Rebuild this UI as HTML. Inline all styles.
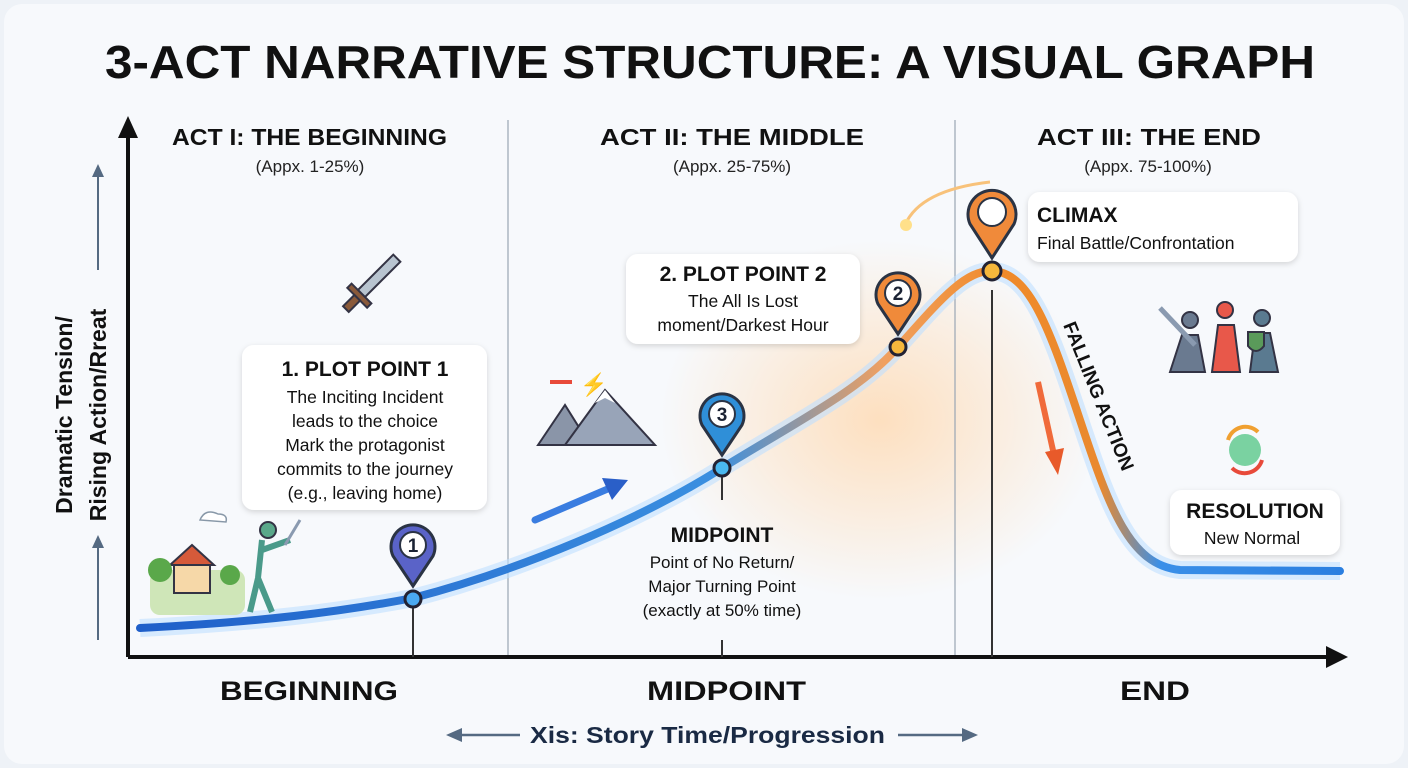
<!DOCTYPE html>
<html><head><meta charset="utf-8"><style>
html,body{margin:0;padding:0;width:1408px;height:768px;overflow:hidden;background:#eef2f7;font-family:"Liberation Sans",sans-serif}
svg{display:block}
</style></head><body>
<svg width="1408" height="768" viewBox="0 0 1408 768" xmlns="http://www.w3.org/2000/svg">
<defs>
<linearGradient id="cg" x1="140" y1="0" x2="1340" y2="0" gradientUnits="userSpaceOnUse">
<stop offset="0" stop-color="#1f5fc9"/><stop offset="0.48" stop-color="#3a8fe0"/><stop offset="0.62" stop-color="#f0a060"/><stop offset="0.72" stop-color="#f08a2a"/><stop offset="0.8" stop-color="#e9892f"/><stop offset="0.85" stop-color="#3a8fe8"/><stop offset="1" stop-color="#2b7fe0"/></linearGradient>
<radialGradient id="glow" cx="0.5" cy="0.5" r="0.5"><stop offset="0" stop-color="#ffd9b0" stop-opacity="0.8"/><stop offset="1" stop-color="#ffd9b0" stop-opacity="0"/></radialGradient>
<filter id="sh" x="-10%" y="-10%" width="120%" height="130%"><feDropShadow dx="0" dy="2" stdDeviation="3" flood-opacity="0.15"/></filter>
</defs>
<rect x="4" y="4" width="1400" height="760" rx="18" fill="#f7f9fc"/>
<ellipse cx="880" cy="420" rx="220" ry="180" fill="url(#glow)"/>
<text x="105" y="78" textLength="1210" lengthAdjust="spacingAndGlyphs" font-size="46" font-weight="bold" fill="#111">3-ACT NARRATIVE STRUCTURE: A VISUAL GRAPH</text>
<line x1="508" y1="120" x2="508" y2="655" stroke="#9aa6b4" stroke-width="1.2"/>
<line x1="955" y1="120" x2="955" y2="655" stroke="#9aa6b4" stroke-width="1.2"/>
<line x1="128" y1="657" x2="128" y2="130" stroke="#111" stroke-width="4"/>
<polygon points="128,116 118,138 138,138" fill="#111"/>
<line x1="128" y1="657" x2="1330" y2="657" stroke="#111" stroke-width="4"/>
<polygon points="1348,657 1326,646 1326,668" fill="#111"/>
<line x1="98" y1="640" x2="98" y2="545" stroke="#556a82" stroke-width="2"/><polygon points="98,535 92,548 104,548" fill="#556a82"/>
<line x1="98" y1="270" x2="98" y2="175" stroke="#556a82" stroke-width="2"/><polygon points="98,164 92,177 104,177" fill="#556a82"/>
<text transform="translate(72,415) rotate(-90)" text-anchor="middle" font-size="23" font-weight="bold" fill="#111">Dramatic Tension/</text>
<text transform="translate(106,415) rotate(-90)" text-anchor="middle" font-size="23" font-weight="bold" fill="#111">Rising Action/Rreat</text>
<g font-weight="bold" font-size="23" fill="#111" lengthAdjust="spacingAndGlyphs">
<text x="172" y="145" textLength="275" lengthAdjust="spacingAndGlyphs">ACT I: THE BEGINNING</text>
<text x="600" y="145" textLength="264" lengthAdjust="spacingAndGlyphs">ACT II: THE MIDDLE</text>
<text x="1037" y="145" textLength="224" lengthAdjust="spacingAndGlyphs">ACT III: THE END</text></g>
<g font-size="17" fill="#222" text-anchor="middle">
<text x="310" y="172">(Appx. 1-25%)</text>
<text x="732" y="172">(Appx. 25-75%)</text>
<text x="1148" y="172">(Appx. 75-100%)</text></g>
<path d="M140,628 C260,622 340,612 413,598 C520,570 640,520 722,468 C800,420 860,390 898,347 C940,300 965,270 992,271 C1030,272 1050,330 1080,420 C1110,510 1130,565 1180,570 L1340,571" fill="none" stroke="#bfe0ff" stroke-width="18" opacity="0.6"/>
<path d="M140,628 C260,622 340,612 413,598 C520,570 640,520 722,468 C800,420 860,390 898,347 C940,300 965,270 992,271 C1030,272 1050,330 1080,420 C1110,510 1130,565 1180,570 L1340,571" fill="none" stroke="url(#cg)" stroke-width="8" stroke-linecap="round"/>
<g stroke="#333" stroke-width="2"><line x1="413" y1="605" x2="413" y2="657"/><line x1="722" y1="476" x2="722" y2="500"/><line x1="722" y1="640" x2="722" y2="657"/><line x1="992" y1="290" x2="992" y2="657"/></g>
<g stroke="#223" stroke-width="3"><circle cx="413" cy="599" r="8" fill="#4aa8f0"/><circle cx="722" cy="468" r="8" fill="#4ab8f0"/><circle cx="898" cy="347" r="8" fill="#f6b73c"/><circle cx="992" cy="271" r="9" fill="#f6b73c"/></g>
<g stroke="#2a3344" stroke-width="3">
<path d="M413,586 L393,556 A22,22 0 1 1 433,556 Z" fill="#5a63c8"/>
<path d="M722,455 L702,425 A22,22 0 1 1 742,425 Z" fill="#2f8fd8"/>
<path d="M898,334 L878,304 A22,22 0 1 1 918,304 Z" fill="#f08a3a"/>
<path d="M992,258 L970,224 A24,24 0 1 1 1014,224 Z" fill="#f08a3a"/></g>
<g fill="#fff" stroke="#2a3344" stroke-width="2"><circle cx="413" cy="545" r="13"/><circle cx="722" cy="414" r="13"/><circle cx="898" cy="293" r="13"/><circle cx="992" cy="212" r="14"/></g>
<g font-weight="bold" font-size="19" fill="#1a2233" text-anchor="middle"><text x="413" y="552">1</text><text x="722" y="421">3</text><text x="898" y="300">2</text></g>
<g fill="#fff" filter="url(#sh)">
<rect x="242" y="345" width="245" height="165" rx="12"/>
<rect x="626" y="254" width="234" height="90" rx="12"/>
<rect x="1028" y="192" width="270" height="70" rx="12"/>
<rect x="1170" y="490" width="170" height="65" rx="12"/>
</g>
<g fill="#111" text-anchor="middle">
<text x="365" y="376" font-size="21" font-weight="bold">1. PLOT POINT 1</text>
<g font-size="17.5"><text x="365" y="403">The Inciting Incident</text><text x="365" y="427">leads to the choice</text><text x="365" y="451">Mark the protagonist</text><text x="365" y="475">commits to the journey</text><text x="365" y="499">(e.g., leaving home)</text></g>
<text x="743" y="281" font-size="21" font-weight="bold">2. PLOT POINT 2</text>
<g font-size="17.5"><text x="743" y="307">The All Is Lost</text><text x="743" y="331">moment/Darkest Hour</text></g>
<text x="722" y="542" font-size="21" font-weight="bold">MIDPOINT</text>
<g font-size="17"><text x="722" y="568">Point of No Return/</text><text x="722" y="592">Major Turning Point</text><text x="722" y="616">(exactly at 50% time)</text></g>
<text x="1255" y="518" font-size="21" font-weight="bold">RESOLUTION</text>
<text x="1252" y="544" font-size="17.5">New Normal</text>
</g>
<text x="1037" y="222" font-size="21" font-weight="bold" fill="#111">CLIMAX</text>
<text x="1037" y="249" font-size="17.5" fill="#111">Final Battle/Confrontation</text>
<text transform="translate(1063,325) rotate(68)" font-size="19" font-weight="bold" fill="#111">FALLING ACTION</text>
<path d="M535,520 L610,488" stroke="#3a7de0" stroke-width="7" stroke-linecap="round"/><polygon points="628,480 602,478 612,500" fill="#2a5fc8"/>
<path d="M1038,382 L1054,455" stroke="#f06a3a" stroke-width="6"/><polygon points="1058,475 1045,452 1064,448" fill="#e85a2a"/>
<path d="M905,225 Q920,190 990,182" fill="none" stroke="#f8c27a" stroke-width="3"/><circle cx="906" cy="225" r="6" fill="#ffe08a"/>
<g transform="translate(365,290) rotate(45)"><rect x="-5" y="-45" width="10" height="50" fill="#b8c4d0" stroke="#334" stroke-width="2"/><rect x="-14" y="5" width="28" height="6" fill="#8a5a3a" stroke="#334" stroke-width="2"/><rect x="-4" y="11" width="8" height="16" fill="#8a5a3a" stroke="#334" stroke-width="2"/></g>
<polygon points="538,445 565,405 590,445" fill="#8a95a8" stroke="#334" stroke-width="2"/><polygon points="565,445 605,390 655,445" fill="#98a4b8" stroke="#334" stroke-width="2"/><polygon points="595,403 605,390 615,403 605,398" fill="#fff"/>
<path d="M550,382 L572,382" stroke="#e84a3a" stroke-width="4"/><text x="580" y="392" font-size="22" fill="#f0a020">⚡</text>
<rect x="150" y="570" width="95" height="45" rx="10" fill="#cfe6b8"/>
<polygon points="170,565 192,545 214,565" fill="#d65a3a" stroke="#334" stroke-width="2"/><rect x="174" y="565" width="36" height="28" fill="#f6d8a8" stroke="#334" stroke-width="2"/>
<circle cx="160" cy="570" r="12" fill="#5aa84a"/><circle cx="230" cy="575" r="10" fill="#5aa84a"/>
<circle cx="268" cy="530" r="8" fill="#5aa88a" stroke="#334" stroke-width="2"/><path d="M262,540 L258,578 L250,612 M258,578 L272,612 M262,550 L290,540" stroke="#4a9a8a" stroke-width="6" fill="none"/>
<path d="M285,545 L300,520" stroke="#8a9ab0" stroke-width="3"/>
<path d="M200,520 q5,-12 18,-6 q10,0 8,8 z" fill="#fff" stroke="#8898a8" stroke-width="1.5"/>
<g stroke="#334" stroke-width="2"><circle cx="1190" cy="320" r="8" fill="#6a7a90"/><path d="M1170,372 L1182,335 L1198,335 L1205,372 Z" fill="#6a7a90"/>
<circle cx="1225" cy="310" r="8" fill="#e8584a"/><path d="M1212,372 L1218,325 L1234,325 L1240,372 Z" fill="#e8584a"/>
<circle cx="1262" cy="318" r="8" fill="#5a7a90"/><path d="M1250,372 L1255,333 L1270,333 L1278,372 Z" fill="#5a7a90"/><path d="M1248,332 h16 v14 q-8,10 -16,0 z" fill="#5a9a5a"/></g>
<path d="M1160,308 L1195,345" stroke="#8a9ab0" stroke-width="5"/>
<circle cx="1245" cy="450" r="16" fill="#5ac88a" opacity="0.8"/><path d="M1228,440 a18,18 0 0 1 30,-8" fill="none" stroke="#f0a030" stroke-width="4"/><path d="M1262,460 a18,18 0 0 1 -30,8" fill="none" stroke="#e84a3a" stroke-width="4"/>
<g font-weight="bold" font-size="27" fill="#111">
<text x="220" y="700" textLength="178" lengthAdjust="spacingAndGlyphs">BEGINNING</text>
<text x="647" y="700" textLength="159" lengthAdjust="spacingAndGlyphs">MIDPOINT</text>
<text x="1120" y="700" textLength="70" lengthAdjust="spacingAndGlyphs">END</text></g>
<line x1="460" y1="735" x2="520" y2="735" stroke="#556a82" stroke-width="2.5"/><polygon points="446,735 462,728 462,742" fill="#556a82"/>
<line x1="898" y1="735" x2="962" y2="735" stroke="#556a82" stroke-width="2.5"/><polygon points="978,735 962,728 962,742" fill="#556a82"/>
<text x="530" y="743" textLength="355" lengthAdjust="spacingAndGlyphs" font-size="23" font-weight="bold" fill="#1a2a44">Xis: Story Time/Progression</text>
</svg>
</body></html>
